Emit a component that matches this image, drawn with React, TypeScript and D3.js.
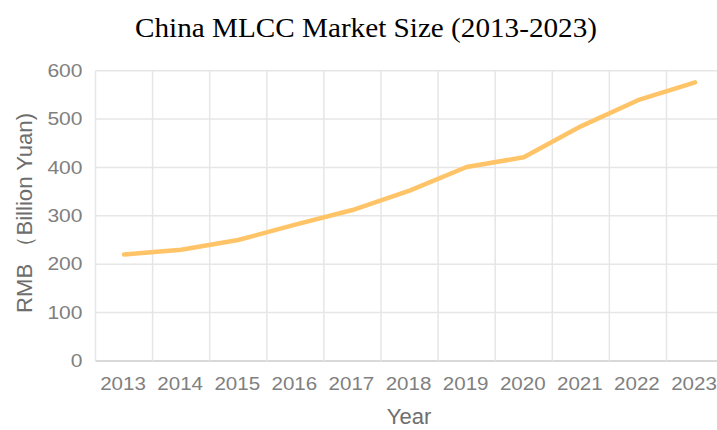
import React from "react";
import * as d3 from "d3";

const years = ["2013","2014","2015","2016","2017","2018","2019","2020","2021","2022","2023"];
const marketSize = [220, 230, 250, 282, 312, 352, 401, 421, 485, 539, 576];
const yTicks = [0, 100, 200, 300, 400, 500, 600];
const title = "China MLCC Market Size (2013-2023)";
const xTitle = "Year";
const yTitle = "RMB （Billion Yuan)";

const W = 717, H = 430;
const left = 95.5, top = 70.7, bottom = 361, bandW = 57.1;

export default function App() {
  const x = d3.scaleBand<string>().domain(years).range([left, left + bandW * years.length]).paddingInner(0).paddingOuter(0);
  const y = d3.scaleLinear().domain([0, 600]).range([bottom, top]);
  const line = d3.line<number>()
    .x((_, i) => (x(years[i]) as number) + x.bandwidth() / 2)
    .y((d) => y(d));
  const gridColor = "#e6e6e6";
  const tickFont = "'Liberation Sans', Arial, Helvetica, sans-serif";
  return (
    <svg width={W} height={H} style={{ position: "absolute", left: 0, top: 0, background: "#fff" }}>
      <text x={366} y={37} textAnchor="middle" fontFamily="'Liberation Serif', 'Times New Roman', serif" fontSize={27}
        textLength={462} lengthAdjust="spacingAndGlyphs" fill="#000">{title}</text>
      {yTicks.map((t) => (
        <line key={"h" + t} x1={left} x2={W} y1={y(t)} y2={y(t)} stroke={t === 0 ? "#d9d9d9" : gridColor} strokeWidth={t === 0 ? 2 : 1.5} />
      ))}
      {years.map((yr) => (
        <line key={"v" + yr} x1={x(yr) as number} x2={x(yr) as number} y1={top} y2={bottom} stroke={gridColor} strokeWidth={1.5} />
      ))}
      {yTicks.map((t) => {
        const s = String(t);
        return (
          <text key={"yt" + t} x={82.5} y={y(t)} dy="0.35em" textAnchor="end" fontFamily={tickFont} fontSize={17.5}
            textLength={s.length * 11.7} lengthAdjust="spacingAndGlyphs" fill="#808080">{s}</text>
        );
      })}
      {years.map((yr) => (
        <text key={"xt" + yr} x={(x(yr) as number) + x.bandwidth() / 2 - 1} y={390} textAnchor="middle" fontFamily={tickFont} fontSize={17.5}
          textLength={45.7} lengthAdjust="spacingAndGlyphs" fill="#808080">{yr}</text>
      ))}
      <path d={line(marketSize) || ""} fill="none" stroke="#FFC468" strokeWidth={4.5} strokeLinejoin="round" strokeLinecap="round" />
      <text x={409} y={424} textAnchor="middle" fontFamily={tickFont} fontSize={22} fill="#6e6e6e">{xTitle}</text>
      <text transform="translate(32,213) rotate(-90)" textAnchor="middle" fontFamily={tickFont} fontSize={22}
        textLength={200} lengthAdjust="spacingAndGlyphs" fill="#6e6e6e">{yTitle}</text>
    </svg>
  );
}
